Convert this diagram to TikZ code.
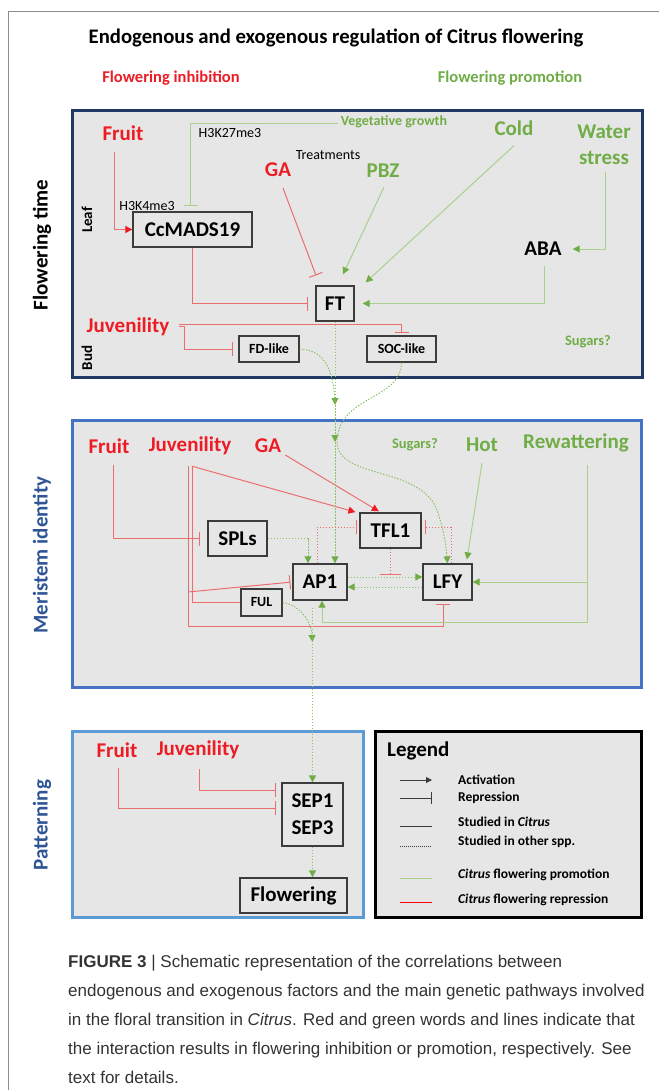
\documentclass[tikz,border=0pt]{standalone}
\usepackage{fontspec}
\setmainfont{Carlito}
\newfontfamily\capfont{Liberation Sans}
\usetikzlibrary{arrows.meta,calc}
\definecolor{inhred}{RGB}{237,28,36}
\definecolor{prognr}{RGB}{112,173,71}
\definecolor{redlin}{RGB}{235,110,110}
\definecolor{grnlin}{RGB}{169,209,142}
\definecolor{dotgrn}{RGB}{140,195,105}
\definecolor{panelgray}{RGB}{231,230,230}
\definecolor{navy}{RGB}{31,56,100}
\definecolor{midblue}{RGB}{68,114,196}
\definecolor{liteblue}{RGB}{91,155,213}
\definecolor{boxline}{RGB}{60,60,60}
\definecolor{lblblue}{RGB}{47,85,151}
\definecolor{capgray}{RGB}{51,51,51}
\newcommand{\fsz}[1]{\fontsize{#1}{#1}\selectfont}

\tikzset{
  panel/.style={fill=panelgray, line width=3pt},
  gene/.style={draw=boxline, line width=1.3pt, inner sep=0pt, font=\bfseries\fsz{21}},
  minigene/.style={gene, font=\bfseries\fsz{14}},
  inhtxt/.style={text=inhred, inner sep=1pt, font=\bfseries\fsz{21}},
  protxt/.style={text=prognr, inner sep=1pt, font=\bfseries\fsz{21}},
  smalltxt/.style={inner sep=1pt, font=\fsz{14}},
  sidelbl/.style={rotate=90, inner sep=1pt, font=\bfseries\fsz{21}},
  legtxt/.style={anchor=west, inner sep=1pt, font=\bfseries\fsz{13.5}},
  redln/.style={draw=redlin, line width=1pt},
  grnln/.style={draw=grnlin, line width=1pt},
  dotln/.style={draw=dotgrn, line width=1pt, dash pattern=on 1.5pt off 1.5pt},
  reddot/.style={draw=redlin, line width=1pt, dash pattern=on 1.5pt off 1.5pt},
  act/.style={-{Triangle[length=7pt,width=7pt,color=prognr]}},
  actred/.style={-{Triangle[length=7pt,width=7pt,color=inhred]}},
  rep/.style={-{Bar[width=14pt]}},
}

\begin{document}
\begin{tikzpicture}[x=1pt,y=-1pt]
\useasboundingbox (0,0) rectangle (659,1090);
% frame of the figure
\draw[black!45, line width=1pt] (8.5,1090) -- (8.5,11) -- (659,11);

% heading
\node[inner sep=1pt, font=\bfseries\fsz{20.7}] (title) at (336,38) {Endogenous and exogenous regulation of Citrus flowering};
\node[inhtxt, font=\bfseries\fsz{16.5}] (inhib) at (171,78) {Flowering inhibition};
\node[protxt, font=\bfseries\fsz{16.5}] (promo) at (510,78) {Flowering promotion};

% panels
\draw[panel, draw=navy] (72,110) rectangle (642,377);
\draw[panel, draw=midblue] (72,420) rectangle (641,687);
\draw[panel, draw=liteblue] (72,731) rectangle (363,917);
\draw[panel, draw=black] (375,731) rectangle (641,917);

\node[sidelbl] (lbltime) at (42,245) {Flowering time};
\node[sidelbl, text=lblblue] (lblmer) at (42,555) {Meristem identity};
\node[sidelbl, text=lblblue] (lblpat) at (42,825) {Patterning};
\node[sidelbl, font=\bfseries\fsz{15}] (leaf) at (87,220) {Leaf};
\node[sidelbl, font=\bfseries\fsz{15}] (bud) at (87,358) {Bud};

%%% flowering time
\node[inhtxt] (fruitA) at (123,133) {Fruit};
\node[smalltxt] (h3k27) at (230,133) {H3K27me3};
\node[protxt, font=\bfseries\fsz{14}] (vegg) at (394,122) {Vegetative growth};
\node[smalltxt] (treat) at (328,155) {Treatments};
\node[inhtxt] (gaA) at (278,170) {GA};
\node[protxt] (pbz) at (383,171) {PBZ};
\node[protxt] (cold) at (514,128) {Cold};
\node[protxt, align=center, font=\bfseries\fontsize{21}{26}\selectfont] (water) at (604,145) {Water\\stress};
\node[smalltxt] (h3k4) at (147,206) {H3K4me3};
\node[gene, minimum width=119pt, minimum height=35pt] (ccmads) at (192.5,229.5) {CcMADS19};
\node[inner sep=1pt, font=\bfseries\fsz{21}] (aba) at (543,249) {ABA};
\node[gene, minimum width=38pt, minimum height=35pt] (ft) at (335,303.5) {FT};
\node[inhtxt] (juvA) at (128,327) {Juvenility};
\node[minigene, minimum width=60pt, minimum height=26pt] (fdlike) at (269,349) {FD-like};
\node[minigene, minimum width=69pt, minimum height=26pt] (soclike) at (401.5,349) {SOC-like};
\node[protxt, font=\bfseries\fsz{14.5}] (sugA) at (588,342) {Sugars?};

\draw[redln, actred] ([shift={(-9,10)}]fruitA.south) |- (ccmads.west);
\draw[grnln, rep] ([shift={(-2,1)}]vegg.west) -| ([shift={(15,0)}]h3k4.east);
\draw[redln, rep] ([shift={(5,10)}]gaA.south) -- ([shift={(-19,-10)}]ft.north);
\draw[grnln, act] ([shift={(1,8)}]pbz.south) -- ([shift={(8,-11)}]ft.north);
\draw[grnln, act] ([shift={(0,9)}]cold.south) -- ([shift={(11,-3)}]ft.north east);
\draw[grnln, act, shorten >=10pt] ([shift={(1,6)}]water.south) |- (aba.east);
\draw[grnln, act, shorten >=8pt] ([shift={(1,9)}]aba.south) |- (ft.east);
\draw[redln, rep, shorten >=7pt] (ccmads.south) |- (ft.west);
\draw[redln, rep, shorten >=2pt] ([shift={(9,-3)}]juvA.east) -| (soclike.north);
\draw[redln, rep, shorten >=5pt] ([shift={(9,-1)}]juvA.east) -- ++(5,0) |- (fdlike.west);

% dotted links into the meristem
\coordinate (mrgA) at (335,405);
\coordinate (mrgB) at (335,442);
\draw[dotln, act] (ft.south) -- (mrgA);
\draw[dotln, act] (mrgA) -- (mrgB);
\draw[dotln] (fdlike.east) .. controls (322,350) and (334,365) .. (mrgA);

%%% meristem identity
\node[inhtxt] (fruitB) at (109,446) {Fruit};
\node[inhtxt] (juvB) at (190,446) {Juvenility};
\node[inhtxt] (gaB) at (268,446) {GA};
\node[protxt, font=\bfseries\fsz{14.5}] (sugB) at (415,445) {Sugars?};
\node[protxt] (hot) at (482,445) {Hot};
\node[protxt] (rewat) at (576,443) {Rewattering};
\node[gene, minimum width=59pt, minimum height=35pt] (spls) at (237.5,538.5) {SPLs};
\node[gene, minimum width=61pt, minimum height=35pt] (tfl1) at (390.5,530.5) {TFL1};
\node[gene, minimum width=54pt, minimum height=36pt] (ap1) at (320,582) {AP1};
\node[gene, minimum width=49pt, minimum height=36pt] (lfy) at (447.5,582) {LFY};
\node[minigene, minimum width=41pt, minimum height=27pt] (ful) at (261.5,602.5) {FUL};

\coordinate (juvLow) at (443,626);
\coordinate (rwLow) at (587,622);
\draw[redln, rep, shorten >=7pt] ([shift={(4,10)}]fruitB.south) |- (spls.west);
\draw[redln, rep, shorten >=3pt] ([shift={(-2,10)}]juvB.south) |- (juvLow) -- (juvLow |- lfy.south);
\draw[redln, rep, shorten >=2pt] ([shift={(-2,10)}]juvB.south |- ap1.west) -- (ap1.west);
\draw[redln] ([shift={(2,10)}]juvB.south) |- (ful.west);
\draw[redln, actred, shorten >=1pt] ([shift={(2,10)}]juvB.south) -- ([shift={(-3,0)}]tfl1.north west);
\draw[redln, actred, shorten >=2pt] ([shift={(3,9)}]gaB.east) -- ([shift={(-10,0)}]tfl1.north);
\draw[dotln, act] (spls.east) -| ([shift={(-12,0)}]ap1.north);
\draw[dotln, act] (mrgB) -- (mrgB |- ap1.north);
\draw[reddot, rep, shorten >=2pt] ([shift={(-3,0)}]ap1.north) |- ([shift={(0,-3.5)}]tfl1.west);
\draw[reddot, rep, shorten >=3pt] ([shift={(3.5,0)}]lfy.north) |- ([shift={(0,-3.5)}]tfl1.east);
\coordinate (apup) at ([shift={(0,-7)}]ap1.east);
\draw[reddot, -{Bar[width=21pt]}] (tfl1.south) -- (tfl1.south |- apup);
\draw[dotln, act] ([shift={(0,-5)}]ap1.east) -- ([shift={(0,-5)}]lfy.west);
\draw[dotln, act] ([shift={(0,5)}]lfy.west) -- ([shift={(0,5)}]ap1.east);
\draw[grnln, act] ([shift={(0,10)}]hot.south) -- ([shift={(19.5,-4)}]lfy.north);
\draw[grnln, act] ([shift={(11,12)}]rewat.south) |- (lfy.east);
\draw[grnln, act] ([shift={(11,12)}]rewat.south) -- (rwLow) -| ([shift={(2,0)}]ap1.south);
\draw[dotln, act] (soclike.south) .. controls (401,400) and (340,395) .. (337,440)
  .. controls (335,480) and (420,465) .. (437,510) .. controls (444,530) and (446,545) .. (lfy.north);

%%% patterning
\node[inhtxt] (fruitC) at (117,750) {Fruit};
\node[inhtxt] (juvC) at (198,750) {Juvenility};
\node[gene, minimum width=61pt, minimum height=63pt, align=center, font=\bfseries\fontsize{21}{27}\selectfont] (sep) at (312.5,814.5) {SEP1\\SEP3};
\node[gene, minimum width=107pt, minimum height=35pt] (flow) at (293.5,895.5) {Flowering};

\coordinate (fulJoin) at (312.5,642);
\draw[dotln, act] (ful.east) .. controls (298,604) and (311,620) .. (fulJoin);
\draw[dotln, act] ($(ap1.south -| sep.north)+(0,7)$) -- (sep.north);
\draw[redln, rep, shorten >=5pt] ([shift={(1,9)}]juvC.south) |- ([shift={(0,-24.5)}]sep.west);
\draw[redln, rep, shorten >=5pt] ([shift={(1,9)}]fruitC.south) |- ([shift={(0,-6.5)}]sep.west);
\draw[dotln, act] (sep.south) -- (sep.south |- flow.north);

%%% legend
\node[anchor=west, inner sep=1pt, font=\bfseries\fsz{21}] (legend) at (386,751) {Legend};
\node[legtxt] (lgact) at (457,780) {Activation};
\node[legtxt] (lgrep) at (457,798) {Repression};
\node[legtxt] (lgcit) at (457,822) {Studied in \textit{Citrus}};
\node[legtxt] (lgoth) at (457,842) {Studied in other spp.};
\node[legtxt] (lgpro) at (457,875) {\textit{Citrus} flowering promotion};
\node[legtxt] (lgrpr) at (457,900) {\textit{Citrus} flowering repression};
\draw[boxline, line width=1pt, -{Triangle[length=6pt,width=6pt]}] ([shift={(-57,0)}]lgact.west) -- ([shift={(-25,0)}]lgact.west);
\draw[boxline, line width=1pt, -{Bar[width=12pt]}] ([shift={(-57,0)}]lgrep.west) -- ([shift={(-25,0)}]lgrep.west);
\draw[boxline, line width=1pt] ([shift={(-57,4)}]lgcit.west) -- ([shift={(-25,4)}]lgcit.west);
\draw[boxline, line width=0.8pt, dash pattern=on 1pt off 1pt] ([shift={(-57,4)}]lgoth.west) -- ([shift={(-25,4)}]lgoth.west);
\draw[grnln] ([shift={(-57,3)}]lgpro.west) -- ([shift={(-25,3)}]lgpro.west);
\draw[redln, draw=red] ([shift={(-57,2)}]lgrpr.west) -- ([shift={(-25,2)}]lgrpr.west);

%%% caption
\node[anchor=north west, inner sep=0pt, align=left, text=capgray, font=\capfont\fontsize{17}{29}\selectfont] (caption) at (68,955)
  {\textbf{FIGURE 3} \textbar{} Schematic representation of the correlations between\\
   endogenous and exogenous factors and the main genetic pathways involved\\
   in the floral transition in \textit{Citrus}. Red and green words and lines indicate that\\
   the interaction results in flowering inhibition or promotion, respectively. See\\
   text for details.};
\end{tikzpicture}
\end{document}
